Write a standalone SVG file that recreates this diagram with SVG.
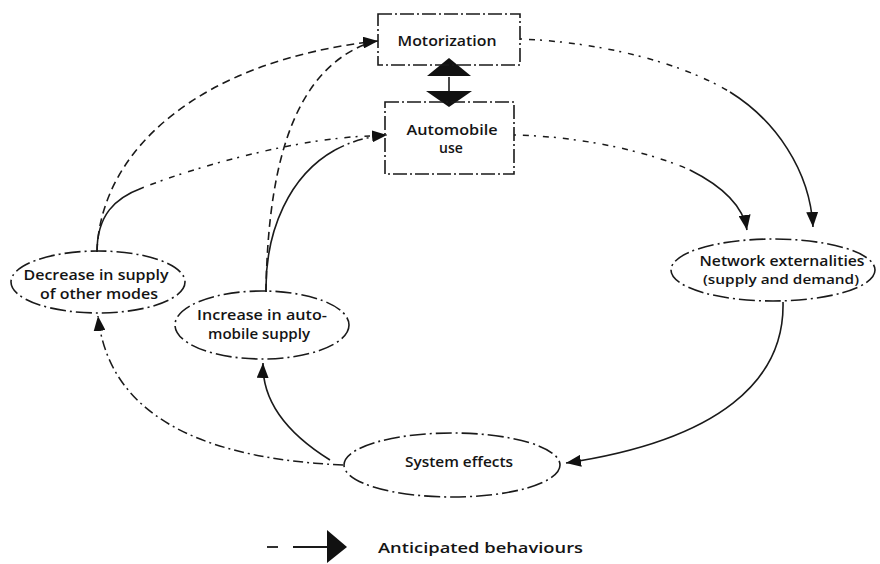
<svg xmlns="http://www.w3.org/2000/svg" width="880" height="564" viewBox="0 0 880 564">
<style>
  .bg{fill:#ffffff}
  .box{fill:none;stroke:#1a1a1a;stroke-width:1.6;stroke-dasharray:14 3 2 3}
  .ell{fill:none;stroke:#1a1a1a;stroke-width:1.6;stroke-dasharray:16 4 2 4}
  .t{font-family:"Open Sans","Liberation Sans",sans-serif;font-weight:600;font-size:14px;fill:#141414;text-anchor:middle}
  .tl{font-size:15px}
  .ts{font-size:12.5px}
  .solid{fill:none;stroke:#1a1a1a;stroke-width:1.6}
  .dash{fill:none;stroke:#1a1a1a;stroke-width:1.6;stroke-dasharray:8 5}
  .dd{fill:none;stroke:#1a1a1a;stroke-width:1.5;stroke-dasharray:10 4 2 4}
  .dot{fill:none;stroke:#1a1a1a;stroke-width:1.5;stroke-dasharray:2 7 6 5}
  .head{fill:#111}
</style>
<defs>
  <marker id="ah" markerUnits="userSpaceOnUse" markerWidth="16" markerHeight="12" refX="15" refY="6" orient="auto">
    <path d="M0,0 L15,6 L0,12 z" class="head"/>
  </marker>
</defs>
<rect class="bg" x="0" y="0" width="880" height="564"/>

<g id="connectors">
  <!-- Motorization -> Network externalities -->
  <path class="dot" d="M520,39 C600,42 680,62 730,92"/>
  <path class="solid" d="M730,92 C775,120 810,170 813,227" marker-end="url(#ah)"/>
  <!-- Automobile use -> Network externalities -->
  <path class="dot" d="M514,135 C570,136 640,148 690,170"/>
  <path class="solid" d="M690,170 C720,185 743,205 747,230" marker-end="url(#ah)"/>
  <!-- Network externalities -> System effects -->
  <path class="solid" d="M783,302 C785,380 720,440 566,463" marker-end="url(#ah)"/>
  <!-- System effects -> Increase in automobile supply -->
  <path class="solid" d="M330,460 C285,432 262,400 263,363" marker-end="url(#ah)"/>
  <!-- System effects -> Decrease in supply of other modes -->
  <path class="dd" d="M343,465 C230,460 110,430 98,316" marker-end="url(#ah)"/>
  <!-- Decrease -> Motorization (anticipated) -->
  <path class="dash" d="M97,252 C100,150 200,60 378,41" marker-end="url(#ah)"/>
  <!-- Decrease -> Automobile use -->
  <path class="solid" d="M97,252 C97,215 115,198 142,188"/>
  <path class="dot" d="M142,188 C200,165 300,138 370,136"/>
  <!-- Increase -> Automobile use -->
  <path class="solid" d="M266,292 C265,230 290,175 335,150"/>
  <path class="dd" d="M335,150 C350,142 365,137 387,135" marker-end="url(#ah)"/>
  <!-- Increase -> Motorization (anticipated) -->
  <path class="dash" d="M266,292 C268,150 300,70 366,44"/>
  <!-- Motorization <-> Automobile use -->
  <polygon class="head" points="449,58 471,76 427,76"/>
  <line x1="449" y1="77" x2="449" y2="91" stroke="#1a1a1a" stroke-width="1.6"/>
  <polygon class="head" points="426,91 472,91 449,107"/>
</g>

<g id="motorization">
  <rect class="box" x="378" y="14" width="142" height="51"/>
  <text class="t tl" x="447" y="46" textLength="99" lengthAdjust="spacingAndGlyphs">Motorization</text>
</g>

<g id="automobile-use">
  <rect class="box" x="385" y="102" width="129" height="72"/>
  <text class="t" x="452" y="135" textLength="91" lengthAdjust="spacingAndGlyphs">Automobile</text>
  <text class="t" x="451" y="153">use</text>
</g>

<g id="decrease-supply">
  <ellipse class="ell" cx="98" cy="282" rx="87" ry="31"/>
  <text class="t" x="96" y="280" textLength="145" lengthAdjust="spacingAndGlyphs">Decrease in supply</text>
  <text class="t" x="99" y="299" textLength="118" lengthAdjust="spacingAndGlyphs">of other modes</text>
</g>

<g id="increase-supply">
  <ellipse class="ell" cx="262" cy="325" rx="87" ry="34"/>
  <text class="t" x="262" y="320" textLength="130" lengthAdjust="spacingAndGlyphs">Increase in auto-</text>
  <text class="t" x="259" y="339" textLength="102" lengthAdjust="spacingAndGlyphs">mobile supply</text>
</g>

<g id="network-externalities">
  <ellipse class="ell" cx="773" cy="270" rx="102" ry="31"/>
  <text class="t" x="782" y="266" textLength="165" lengthAdjust="spacingAndGlyphs">Network externalities</text>
  <text class="t ts" x="781" y="284" textLength="156" lengthAdjust="spacingAndGlyphs">(supply and demand)</text>
</g>

<g id="system-effects">
  <ellipse class="ell" cx="452" cy="465" rx="108" ry="32"/>
  <text class="t tl" x="459" y="467" textLength="108" lengthAdjust="spacingAndGlyphs">System effects</text>
</g>

<g id="legend">
  <line x1="267" y1="547" x2="278" y2="547" stroke="#1a1a1a" stroke-width="1.8"/>
  <line x1="293" y1="547" x2="327" y2="547" stroke="#1a1a1a" stroke-width="1.8"/>
  <polygon class="head" points="327,530 347,547 327,563"/>
  <text class="t tl" x="378" y="553" style="text-anchor:start" textLength="205" lengthAdjust="spacingAndGlyphs">Anticipated behaviours</text>
</g>
</svg>
